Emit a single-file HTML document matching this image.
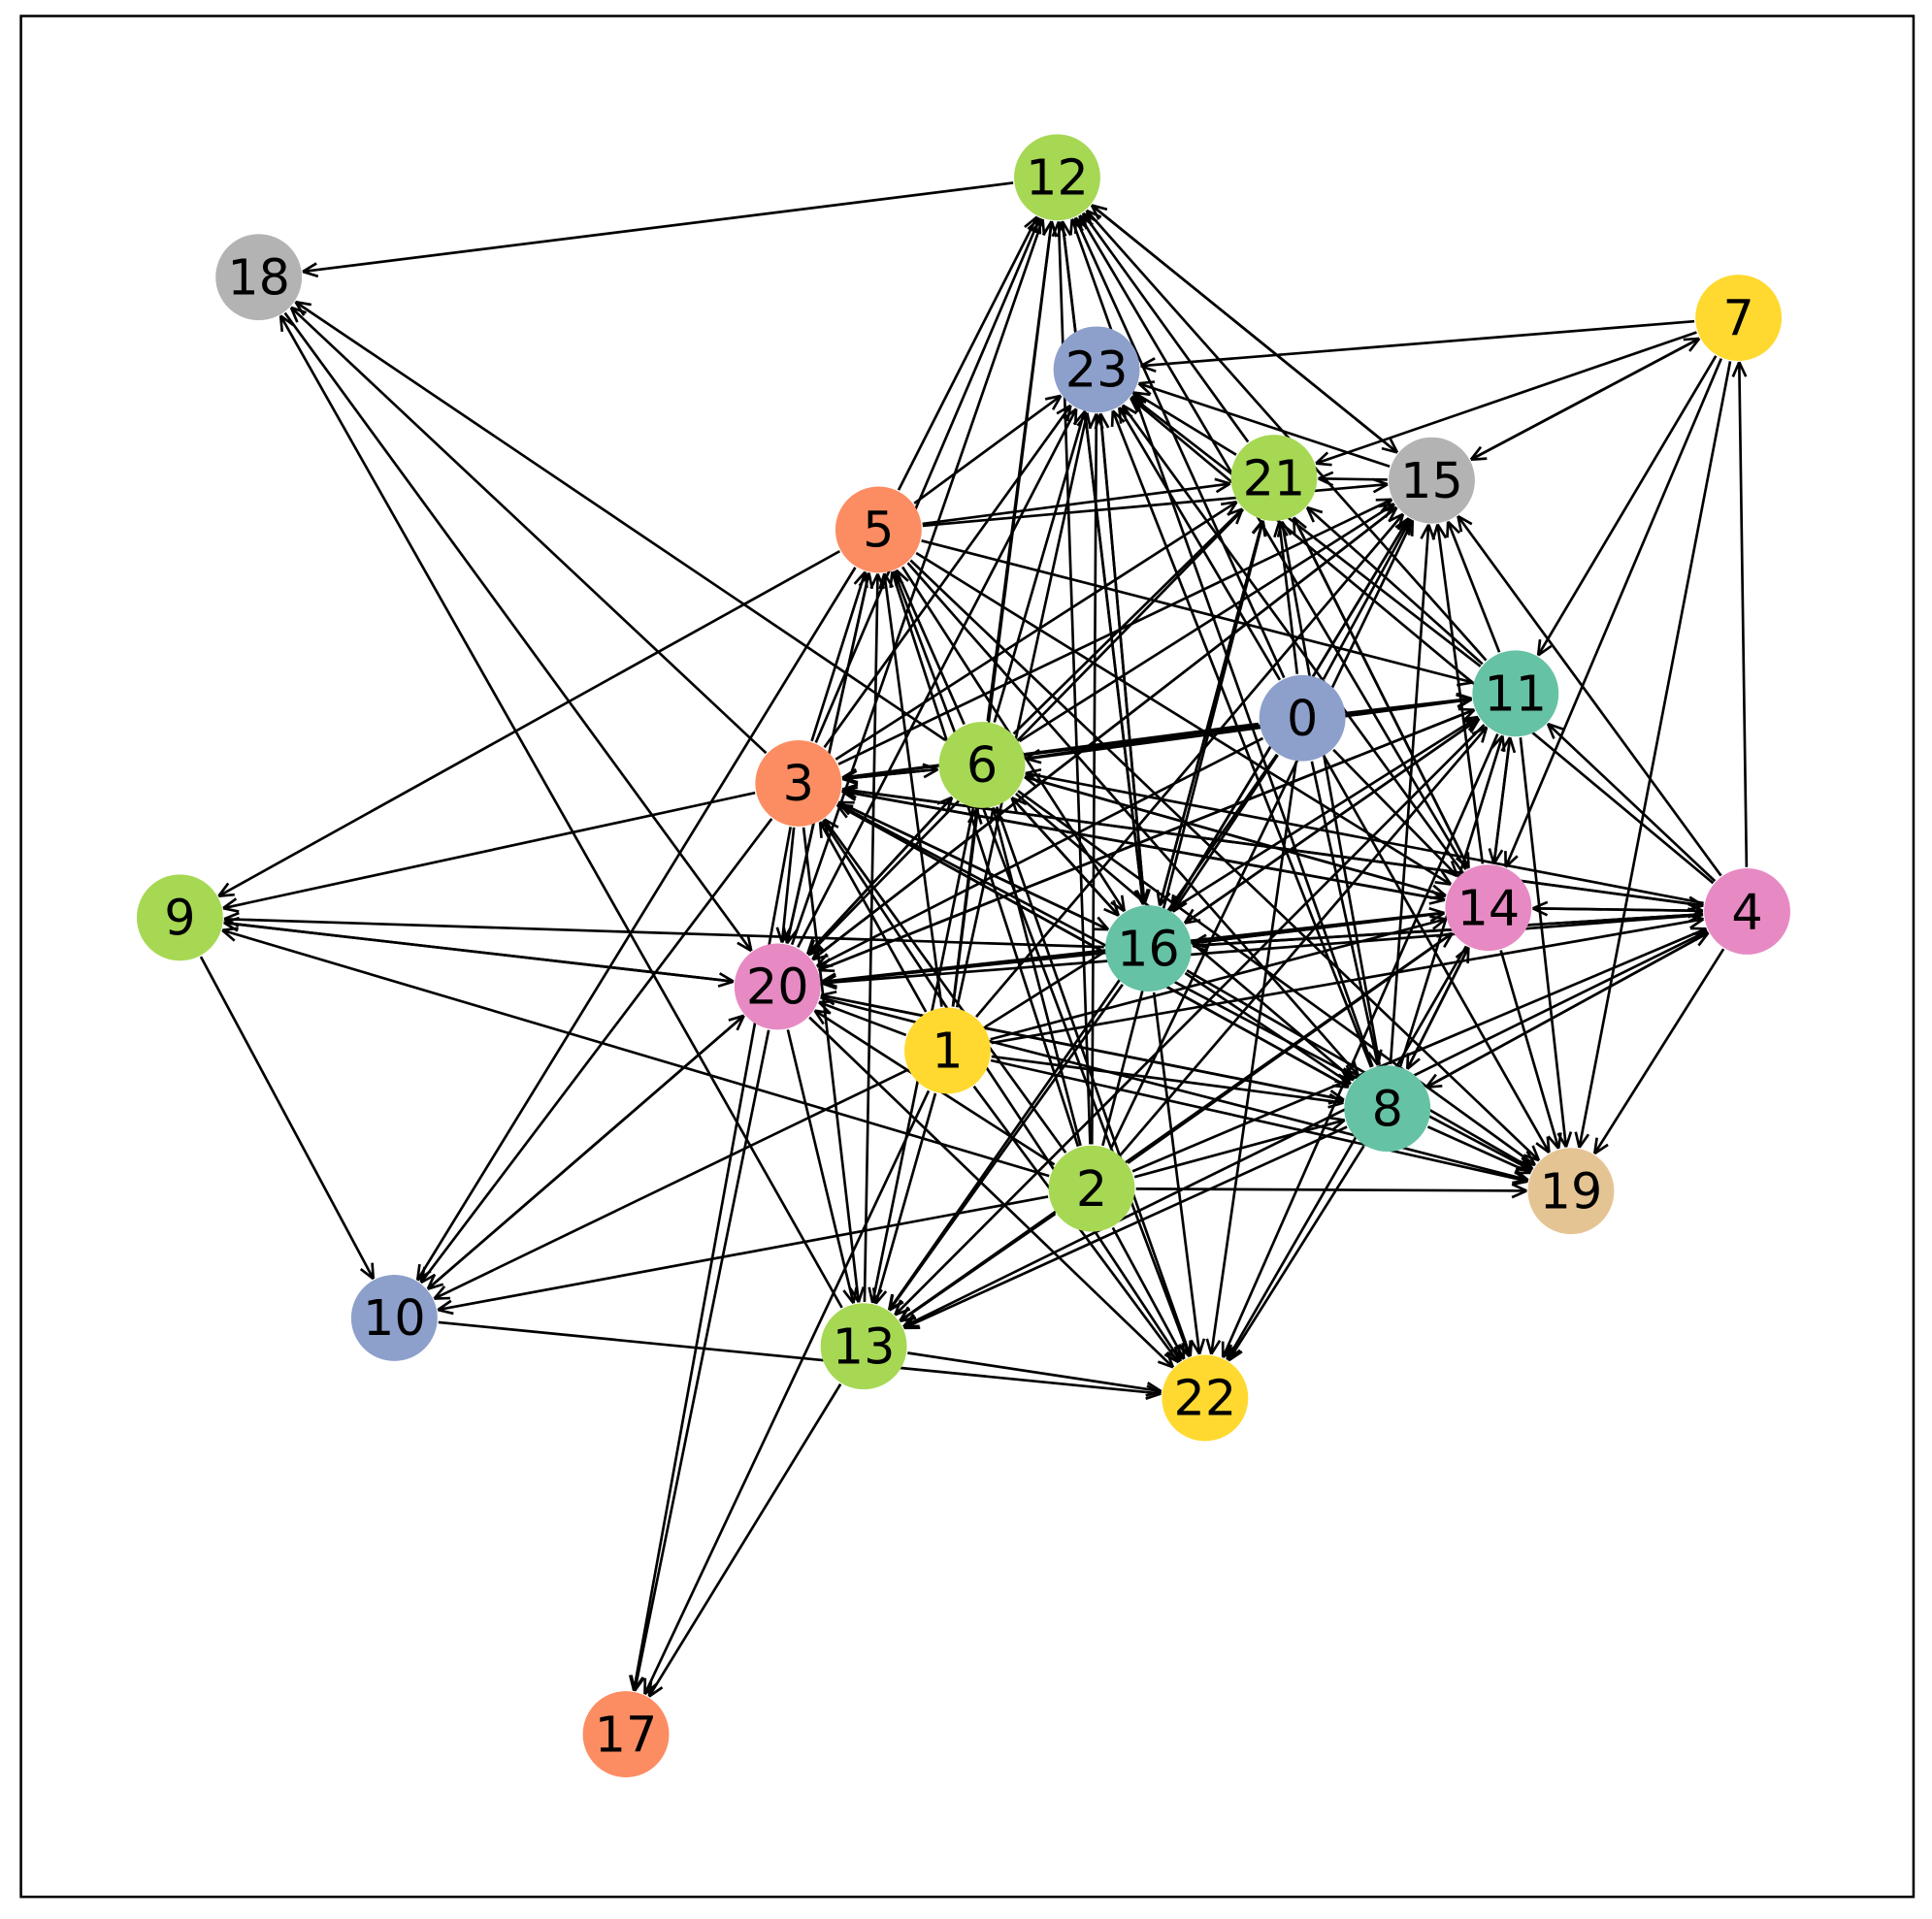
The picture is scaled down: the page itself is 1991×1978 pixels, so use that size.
<!DOCTYPE html>
<html><head><meta charset="utf-8"><style>html,body{margin:0;padding:0;background:#fff}svg{display:block}</style></head>
<body>
<svg id="g" width="1991" height="1978" viewBox="0 0 1568 1558" preserveAspectRatio="none" xmlns="http://www.w3.org/2000/svg">
<rect x="0" y="0" width="1568" height="1558" fill="#fff"/>
<rect x="17" y="13" width="1536" height="1527" fill="none" stroke="#000" stroke-width="2"/>
<g id="edges" stroke="#000" stroke-width="2.1" fill="none"></g>
<g id="nodes"></g>
</svg>
<script>
var P={0:[1057,583],1:[769,853],2:[886,965],3:[648,636],4:[1418,740],5:[713,430],6:[797,621],7:[1411,258],8:[1126,900],9:[146,745],10:[320,1070],11:[1230,563],12:[858,144],13:[701,1093],14:[1208,737],15:[1162,390],16:[932,770],17:[508,1408],18:[210,225],19:[1275,967],20:[631,801],21:[1034,388],22:[978,1135],23:[890,300]};
var C={0:"#8da0cb",1:"#ffd92f",2:"#a6d854",3:"#fc8d62",4:"#e78ac3",5:"#fc8d62",6:"#a6d854",7:"#ffd92f",8:"#66c2a5",9:"#a6d854",10:"#8da0cb",11:"#66c2a5",12:"#a6d854",13:"#a6d854",14:"#e78ac3",15:"#b3b3b3",16:"#66c2a5",17:"#fc8d62",18:"#b3b3b3",19:"#e5c494",20:"#e78ac3",21:"#a6d854",22:"#ffd92f",23:"#8da0cb"};
var T={12:[5,3,6,1,2,16,0,21,15,11,14,8,20],23:[5,6,3,1,2,16,0,11,14,8,20,7,15,21,4],21:[5,6,16,0,11,14,8,2,3,15,7],15:[5,6,16,0,11,14,8,2,1,4,7,12,3,20],11:[7,0,6,16,2,1,3,20,8,14,5,4],14:[7,0,4,5,3,6,16,1,2,8,11,21],19:[7,4,11,14,8,16,1,2,3,0,6,5,20],22:[2,1,16,8,14,0,6,3,20,13,10,11,5],13:[2,1,16,8,14,0,6,3,20,11,4],20:[3,6,5,16,1,2,0,11,14,8,4,18,9,10,21,15],5:[3,20,13,1,2,6],3:[6,1,0,16,14,4,2,8],16:[3,5,6,0,21,15,11,23,12,14,4],8:[1,2,3,5,6,0,20,16,4,14],6:[0,3,20,1,2,16,14,4],10:[1,2,3,5,20,9],9:[5,3,20,2,16],17:[20,3,13,1],18:[12,3,6,13],7:[4,15],4:[14,16,8,2,1,3]};
var s="",R=36;
for(var t in T){T[t].forEach(function(f){
 var a=P[f],b=P[t],dx=b[0]-a[0],dy=b[1]-a[1],L=Math.hypot(dx,dy),ux=dx/L,uy=dy/L;
 var x1=a[0]+ux*R,y1=a[1]+uy*R,x2=b[0]-ux*R,y2=b[1]-uy*R;
 s+='<line x1="'+x1+'" y1="'+y1+'" x2="'+x2+'" y2="'+y2+'"/>';
 var h=13,an=0.42;
 for(var k=-1;k<=1;k+=2){var c=Math.cos(an*k),sn=Math.sin(an*k);
  var vx=-(ux*c-uy*sn),vy=-(ux*sn+uy*c);
  s+='<line x1="'+x2+'" y1="'+y2+'" x2="'+(x2+vx*h)+'" y2="'+(y2+vy*h)+'"/>';}
});}
document.getElementById("edges").innerHTML=s;
var n="";
for(var k in P){n+='<circle cx="'+P[k][0]+'" cy="'+P[k][1]+'" r="35" fill="'+C[k]+'"/>'+
 '<text x="'+P[k][0]+'" y="'+(P[k][1]+14)+'" font-family="DejaVu Sans, Liberation Sans, sans-serif" font-size="40" text-anchor="middle" fill="#000">'+k+'</text>';}
document.getElementById("nodes").innerHTML=n;
</script>
</body></html>
